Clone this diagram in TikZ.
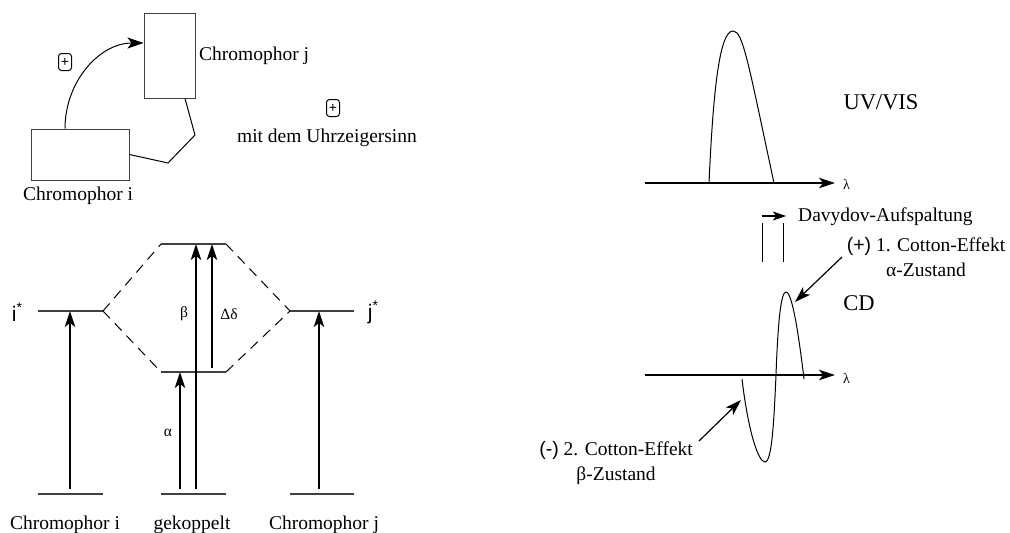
\documentclass[tikz,border=0pt]{standalone}
\usepackage{fontspec}
\setmainfont{Liberation Serif}
\newfontfamily\arialf{Liberation Sans}
\usetikzlibrary{arrows.meta,calc}
\begin{document}
\begin{tikzpicture}[x=1pt,y=-1pt,
 txt/.style={font=\fontsize{19.5}{25}\selectfont, inner sep=0pt},
 big/.style={font=\fontsize{22.5}{27}\selectfont, inner sep=0pt},
 greek/.style={font=\fontsize{15.5}{18}\selectfont, inner sep=0pt},
 lam/.style={font=\fontsize{14}{15}\selectfont, inner sep=0pt},
 chrombox/.style={draw=black!75, line width=1pt, inner sep=0pt},
 plusbox/.style={draw, line width=1pt, rounded corners=3pt, minimum width=13pt, minimum height=17pt, inner sep=0pt, font=\arialf\fontsize{14}{14}\selectfont},
 level/.style={line width=1.7pt, draw=black!75},
 thinline/.style={line width=1pt},
 arr/.style={line width=1.2pt, -{Stealth[length=16pt,width=10.5pt,inset=4pt]}},
 curvearr/.style={line width=1pt, -{Stealth[length=16pt,width=11pt,inset=4pt]}},
 smallarr/.style={line width=1.2pt, -{Stealth[length=13pt,width=9pt,inset=3pt]}},
 dashedline/.style={line width=1pt, dash pattern=on 10pt off 7pt},
]
\useasboundingbox (0,0) rectangle (1010,533);

% ---------- top left: chromophores ----------
\node[chrombox, minimum width=51pt, minimum height=85pt] (cj) at (169.5,55.5) {};
\node[chrombox, minimum width=98pt, minimum height=51pt] (ci) at (80,154.5) {};
\draw[curvearr] ([xshift=-15pt]ci.north) .. controls +(0,-47) and +(-44,0) .. ([yshift=12.5pt]cj.west);
\coordinate (b1) at (168,163);
\coordinate (b2) at (195,135);
\draw[thinline] (ci.east) -- (b1) -- (b2) -- ([xshift=15.5pt]cj.south);
\node[plusbox] (pl1) at (65,62) {+};
\node[txt, anchor=base west] (lj) at (199,60) {Chromophor j};
\node[txt, anchor=base west] (li) at (23,200) {Chromophor i};
\node[plusbox] (pl2) at (333,108) {+};
\node[txt, anchor=base] (uhr) at (327,142) {mit dem Uhrzeigersinn};

% ---------- bottom left: energy levels ----------
\coordinate (gi1) at (38,494); \coordinate (gi2) at (103,494);
\coordinate (gg1) at (161,494); \coordinate (gg2) at (226,494);
\coordinate (gj1) at (290,494); \coordinate (gj2) at (354,494);
\coordinate (ei1) at (38,311); \coordinate (ei2) at (103,311);
\coordinate (ej1) at (290,311); \coordinate (ej2) at (354,311);
\coordinate (up1) at (161,244); \coordinate (up2) at (226,244);
\coordinate (lo1) at (161,372); \coordinate (lo2) at (226,372);
\foreach \a/\b in {gi1/gi2, gg1/gg2, gj1/gj2, ei1/ei2, ej1/ej2, up1/up2, lo1/lo2}
  \draw[level] (\a) -- (\b);
\draw[dashedline] (ei2) -- (up1);
\draw[dashedline] (ei2) -- (lo1);
\draw[dashedline] (up2) -- (ej1);
\draw[dashedline] (lo2) -- (ej1);

\coordinate (fi) at (70,489); \draw[arr] (fi) -- (fi |- ei1);
\coordinate (fj) at (319,489); \draw[arr] (fj) -- (fj |- ej1);
\coordinate (fa) at (180,489); \draw[arr] (fa) -- (fa |- lo1);
\coordinate (fb) at (196,489); \draw[arr] (fb) -- (fb |- up1);
\coordinate (fd) at (212,368); \draw[arr] (fd) -- (fd |- up1);

\node[font=\arialf\fontsize{21}{21}\selectfont, inner sep=0pt] (istar) at (17,312) {i\raisebox{0.8ex}{\fontsize{14}{14}\selectfont *}};
\node[font=\arialf\fontsize{21}{21}\selectfont, inner sep=0pt] (jstar) at (373,312) {j\raisebox{0.8ex}{\fontsize{14}{14}\selectfont *}};
\node[greek] (lb) at (184,314) {β};
\node[greek] (ld) at (229,314) {Δδ};
\node[greek] (la) at (168,433) {α};
\node[txt, anchor=base] (bi) at (65,529) {Chromophor i};
\node[txt, anchor=base] (bg) at (192,529) {gekoppelt};
\node[txt, anchor=base] (bj) at (324,529) {Chromophor j};

% ---------- right: UV/VIS ----------
\coordinate (uv0) at (645,183); \coordinate (uv1) at (835,183);
\draw[arr] (uv0) -- (uv1);
\node[lam, anchor=west] (lam1) at (843,185) {λ};
\coordinate (p0) at (709,183); \coordinate (p1) at (733,31); \coordinate (p2) at (774,183);
\draw[thinline] (p0) .. controls (713,95) and (719,31) .. (p1) .. controls (743,31) and (748,62) .. (p2);
\node[big, anchor=base] (uvvis) at (881,109) {UV/VIS};

% Davydov
\coordinate (d0) at (762,216); \coordinate (d1) at (786,216);
\draw[smallarr] (d0) -- (d1);
\node[txt, anchor=base west] (dav) at (798,221) {Davydov-Aufspaltung};
\coordinate (v1a) at (762,223); \coordinate (v1b) at (762,262);
\coordinate (v2a) at (783,223); \coordinate (v2b) at (783,262);
\draw[thinline] (v1a) -- (v1b);
\draw[thinline] (v2a) -- (v2b);

% ---------- right: CD ----------
\coordinate (cd0) at (645,375); \coordinate (cd1) at (835,375);
\draw[arr] (cd0) -- (cd1);
\node[lam, anchor=west] (lam2) at (843,379) {λ};
\coordinate (c0) at (742,379); \coordinate (cmin) at (765,462); \coordinate (cz) at (776,375);
\coordinate (cmax) at (786,292); \coordinate (c4) at (804,379);
\draw[thinline] (c0) .. controls (748,430) and (758,462) .. (cmin)
  .. controls (772,462) and (774,420) .. (cz)
  .. controls (778,320) and (781,292) .. (cmax)
  .. controls (791,292) and (797,320) .. (c4);
\node[big, anchor=base] (cdl) at (859,310) {CD};

\node[txt, align=center] (cu) at (926,257) {{\arialf (+)} 1. Cotton-Effekt\\α-Zustand};
\coordinate (tu0) at (842,257); \coordinate (tu1) at (795,302);
\draw[arr] (tu0) -- (tu1);

\node[txt, align=center, anchor=north east] (cl) at (693,441) {{\arialf (-)} 2. Cotton-Effekt\\β-Zustand};
\coordinate (tl0) at (699,441); \coordinate (tl1) at (741,400);
\draw[arr] (tl0) -- (tl1);
\end{tikzpicture}
\end{document}
